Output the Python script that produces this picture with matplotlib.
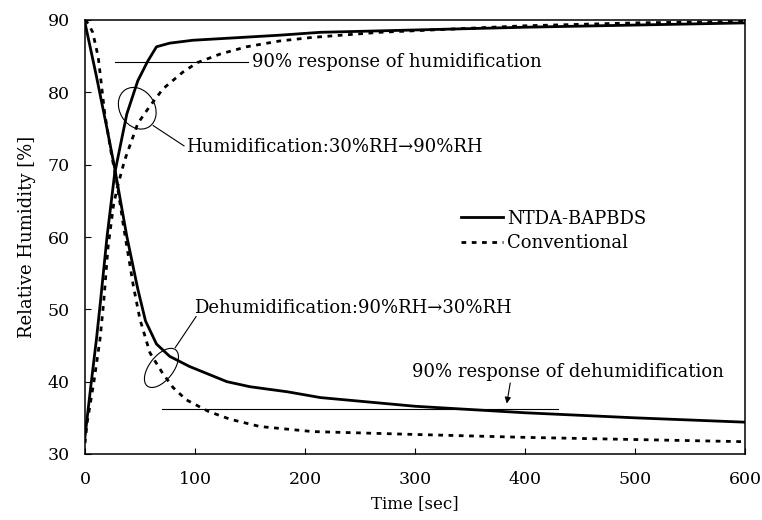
import matplotlib
matplotlib.use("Agg")
import matplotlib.pyplot as plt
from matplotlib.patches import Ellipse
from matplotlib.transforms import ScaledTranslation

plt.rcParams['font.family'] = ['DejaVu Serif']

# humidification 30%RH -> 90%RH
ntda_hum_t = [0, 5, 10.5, 14, 20, 27, 38, 48, 57, 65, 77, 98, 132, 177, 214, 268, 400, 500, 600]
ntda_hum_rh = [32.4, 39.0, 46.0, 51.0, 60.0, 68.8, 77.0, 81.6, 84.3, 86.3, 86.8, 87.2, 87.5, 87.9, 88.3, 88.5, 89.0, 89.3, 89.6]
conv_hum_t = [0, 2, 8, 13.6, 17, 21, 26, 30, 36, 48, 59, 71, 89, 102, 123, 147, 177, 207, 268, 400, 500, 600]
conv_hum_rh = [31.5, 34.4, 39.9, 45.8, 51.0, 58.7, 64.5, 67.2, 70.6, 75.7, 78.1, 80.5, 82.8, 84.1, 85.3, 86.3, 87.1, 87.6, 88.3, 89.2, 89.6, 89.8]

# dehumidification 90%RH -> 30%RH
ntda_dehum_t = [0, 10, 20, 27, 38, 48, 55, 65, 77, 95, 129, 150, 184, 214, 300, 400, 500, 600]
ntda_dehum_rh = [89.6, 82.5, 75.0, 69.5, 60.1, 52.8, 48.4, 45.2, 43.5, 42.1, 40.0, 39.3, 38.6, 37.8, 36.6, 35.7, 35.0, 34.4]
conv_dehum_t = [0, 3, 7, 12, 18, 24, 29, 35, 44, 50, 59, 70, 80, 92, 112, 132, 159, 207, 300, 400, 500, 600]
conv_dehum_rh = [90.0, 89.5, 88.3, 84.9, 77.0, 71.5, 67.5, 61.5, 53.2, 48.6, 44.0, 41.3, 39.2, 37.5, 35.9, 34.8, 33.8, 33.1, 32.7, 32.3, 32.0, 31.7]

hum_90_level = 84.2
dehum_90_level = 36.2

fig = plt.figure(figsize=(7.62, 5.2), dpi=100)
ax = fig.add_axes([85 / 762, 66 / 520, 660 / 762, 434 / 520])

dash = (0, (1.7, 2.0))
ax.plot(ntda_hum_t, ntda_hum_rh, color='black', lw=2.0, label='NTDA-BAPBDS')
ax.plot(conv_hum_t, conv_hum_rh, color='black', lw=2.0, linestyle=dash, label='Conventional')
ax.plot(ntda_dehum_t, ntda_dehum_rh, color='black', lw=2.0)
ax.plot(conv_dehum_t, conv_dehum_rh, color='black', lw=2.0, linestyle=dash)

txt = 13
# 90% response levels
ax.plot([27, 148], [hum_90_level, hum_90_level], color='black', lw=0.8)
ax.text(152, hum_90_level, '90% response of humidification', fontsize=txt, va='center')
ax.plot([70, 430], [dehum_90_level, dehum_90_level], color='black', lw=0.8)
ax.text(297, 41.4, '90% response of dehumidification', fontsize=txt, va='center')
ax.annotate('', xy=(383, 36.6), xytext=(387, 40.2),
            arrowprops=dict(arrowstyle='-|>', lw=0.8, color='black', mutation_scale=9))


def ring(x, y, w, h, angle):
    # ellipse sized in pixels, centred on a data point
    tr = fig.dpi_scale_trans + ScaledTranslation(x, y, ax.transData)
    ax.add_patch(Ellipse((0, 0), w / 100, h / 100, angle=angle, fill=False, lw=0.8,
                         edgecolor='black', transform=tr))


ring(47.5, 77.8, 44, 35, -58)
ax.plot([62, 90], [75.4, 72.6], color='black', lw=0.8)
ax.text(92, 72.5, 'Humidification:30%RH\u219290%RH', fontsize=txt, va='center')

ring(69.5, 41.9, 46, 24, 52)
ax.plot([82, 101], [44.7, 49.0], color='black', lw=0.8)
ax.text(99, 50.2, 'Dehumidification:90%RH\u219230%RH', fontsize=txt, va='center')

ax.set_xlim(0, 600)
ax.set_ylim(30, 90)
ax.set_xticks(range(0, 601, 100))
ax.set_yticks(range(30, 91, 10))
ax.tick_params(direction='in', length=4, width=0.8, labelsize=12.5)
ax.tick_params(axis='x', pad=12)
ax.tick_params(axis='y', pad=11)
for s in ax.spines.values():
    s.set_linewidth(1.1)

ax.set_xlabel('Time [sec]', fontsize=12)
ax.set_ylabel('Relative Humidity [%]', fontsize=13)
ax.xaxis.set_label_coords(0.5, -0.095)
ax.yaxis.set_label_coords(-0.074, 0.5)

ax.legend(loc='center left', bbox_to_anchor=(0.57, 0.514), frameon=False,
          fontsize=13, handlelength=2.3, handletextpad=0.25, labelspacing=0.35,
          borderpad=0, borderaxespad=0)

fig.savefig('out.png', dpi=100)
